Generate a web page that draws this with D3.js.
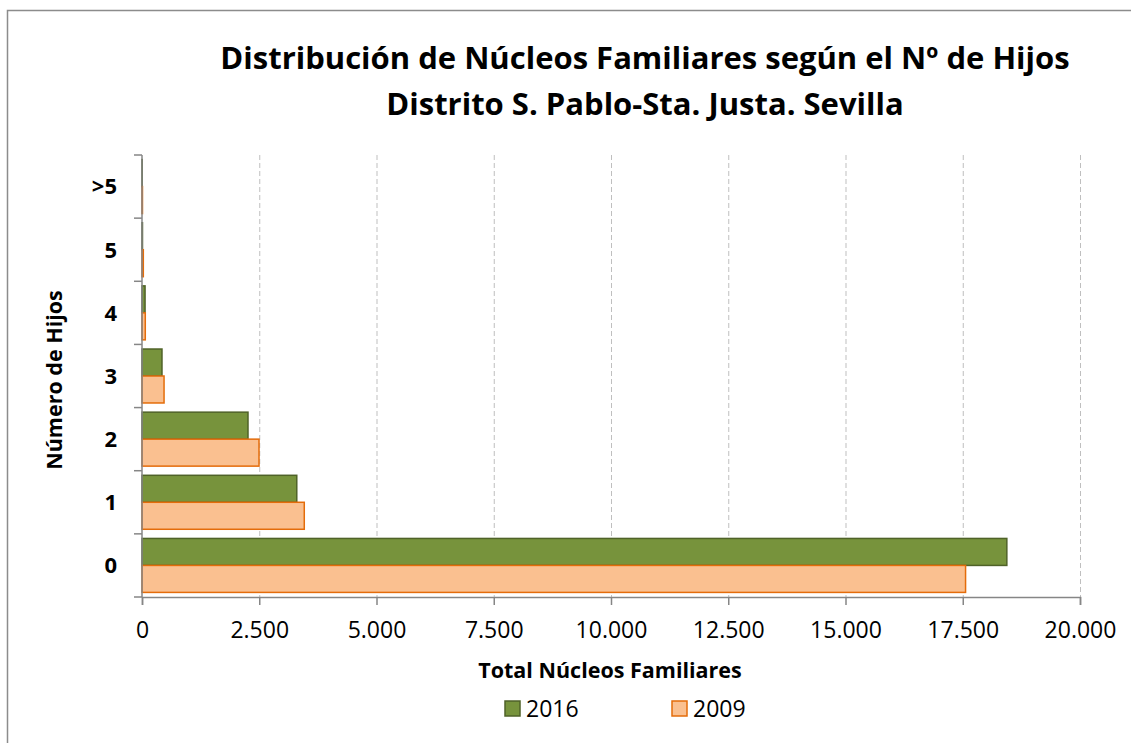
<!DOCTYPE html>
<html>
<head>
<meta charset="utf-8">
<script src="https://cdn.jsdelivr.net/npm/d3@7"></script>
<style>
  body { margin: 0; background: #fff; }
  svg text { font-family: "Open Sans", Lato, sans-serif; fill: #000; }
</style>
</head>
<body>
<div id="chart"></div>
<script>
// Data
var categories = ['0', '1', '2', '3', '4', '5', '>5'];
var seriesNames = ['2016', '2009'];
var values2016 = [18440, 3300, 2260, 426, 65, 10, 5];
var values2009 = [17560, 3460, 2495, 470, 70, 28, 10];
var xTicks = [0, 2500, 5000, 7500, 10000, 12500, 15000, 17500, 20000];
var colors = { '2016': { fill: '#77933C', stroke: '#4F6228' }, '2009': { fill: '#FAC090', stroke: '#E46C0A' } };

const W = 1131, H = 743;
const margin = { top: 155, left: 142 },
    width = 1080 - margin.left,
    height = 597 - margin.top;

const root = d3.select("#chart")
    .append("svg")
    .attr("width", W)
    .attr("height", H);

// outer chart border
root.append("rect")
    .attr("x", 7.5).attr("y", 10.5)
    .attr("width", W + 10).attr("height", H + 10)
    .attr("fill", "none")
    .attr("stroke", "#8c8c8c")
    .attr("stroke-width", 1.5);

const svg = root.append("g")
    .attr("transform", `translate(${margin.left},${margin.top})`);

const x = d3.scaleLinear()
    .domain([0, 20000])
    .range([0, width]);

// categories from bottom ("0") to top (">5")
const y = d3.scaleBand()
    .domain(categories)
    .range([height, 0]);

const inner = d3.scaleBand()
    .domain(seriesNames)
    .range([0, y.bandwidth()])
    .paddingOuter(0.17);

// dashed gridlines
svg.append("g")
    .selectAll("line")
    .data(xTicks.slice(1))
    .enter().append("line")
    .attr("x1", d => x(d) + 0.5).attr("x2", d => x(d) + 0.5)
    .attr("y1", 0).attr("y2", height)
    .attr("stroke", "#bfbfbf")
    .attr("stroke-width", 1)
    .attr("stroke-dasharray", "5,3");

// x axis
const xAxis = svg.append("g")
    .attr("transform", `translate(0,${height})`)
    .call(d3.axisBottom(x).tickValues(xTicks).tickSize(8).tickPadding(17)
        .tickFormat(d => d3.format(",")(d).replace(/,/g, ".")));
xAxis.select(".domain").attr("stroke", "#868686").attr("stroke-width", 1.5);
xAxis.selectAll(".tick line").attr("stroke", "#868686").attr("stroke-width", 1.5);
xAxis.selectAll("text").style("font-size", "23px");

// y axis: ticks at band boundaries
const yAxis = svg.append("g");
yAxis.selectAll(".ytick")
    .data(d3.range(categories.length + 1))
    .enter().append("line")
    .attr("x1", -8).attr("x2", 0)
    .attr("y1", i => i * y.step()).attr("y2", i => i * y.step())
    .attr("stroke", "#868686").attr("stroke-width", 1.5);
yAxis.selectAll(".ylab")
    .data(categories)
    .enter().append("text")
    .attr("x", -25)
    .attr("y", d => y(d) + y.bandwidth() / 2)
    .attr("dy", "0.36em")
    .attr("text-anchor", "end")
    .style("font-size", "22px")
    .style("font-weight", "bold")
    .text(d => d);

// bars
const rows = categories.map((c, i) => ({ cat: c, vals: [values2016[i], values2009[i]] }));
const groups = svg.selectAll(".grp")
    .data(rows)
    .enter().append("g")
    .attr("transform", d => `translate(0,${y(d.cat)})`);
groups.selectAll("rect")
    .data(d => d.vals.map((v, j) => ({ name: seriesNames[j], value: v })))
    .enter().append("rect")
    .attr("x", 0)
    .attr("y", d => inner(d.name))
    .attr("width", d => x(d.value))
    .attr("height", inner.bandwidth())
    .attr("fill", d => colors[d.name].fill)
    .attr("stroke", d => colors[d.name].stroke)
    .attr("stroke-width", 1.5);

// axis line on top of the bars
svg.append("line")
    .attr("x1", 0).attr("x2", 0).attr("y1", 0).attr("y2", height)
    .attr("stroke", "#868686").attr("stroke-width", 1.5);

// title
root.append("text")
    .attr("x", 645).attr("y", 69)
    .attr("text-anchor", "middle")
    .style("font-size", "31px").style("font-weight", "bold")
    .text("Distribución de Núcleos Familiares según el Nº de Hijos");
root.append("text")
    .attr("x", 645).attr("y", 115)
    .attr("text-anchor", "middle")
    .style("font-size", "31px").style("font-weight", "bold")
    .text("Distrito S. Pablo-Sta. Justa. Sevilla");

// axis titles
root.append("text")
    .attr("x", 610).attr("y", 678)
    .attr("text-anchor", "middle")
    .style("font-size", "21.5px").style("font-weight", "bold")
    .text("Total Núcleos Familiares");
root.append("text")
    .attr("transform", "translate(62,380) rotate(-90)")
    .attr("text-anchor", "middle")
    .style("font-size", "21.5px").style("font-weight", "bold")
    .text("Número de Hijos");

// legend
const legendX = [505, 672];
const legend = root.selectAll(".legend")
    .data(seriesNames)
    .enter().append("g")
    .attr("class", "legend")
    .attr("transform", (d, i) => `translate(${legendX[i]},701)`);
legend.append("rect")
    .attr("width", 15).attr("height", 15)
    .attr("fill", d => colors[d].fill)
    .attr("stroke", d => colors[d].stroke)
    .attr("stroke-width", 1.5);
legend.append("text")
    .attr("x", 21).attr("y", 8)
    .attr("dy", "0.36em")
    .style("font-size", "23px")
    .text(d => d);
</script>
</body>
</html>
